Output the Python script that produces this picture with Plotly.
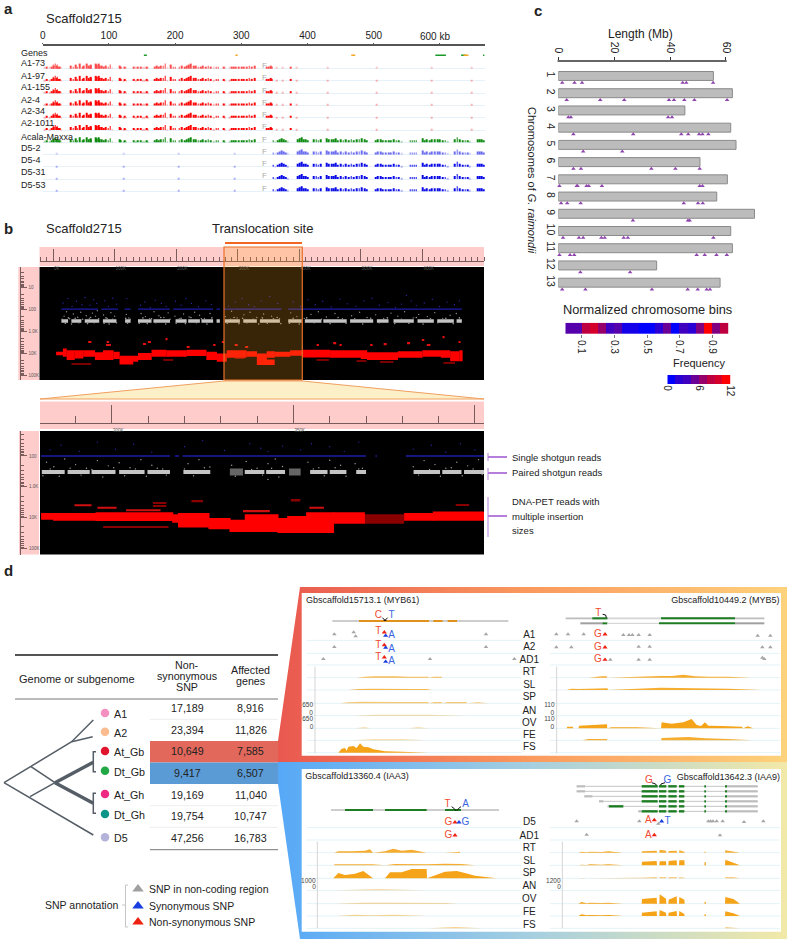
import numpy as np
import plotly.graph_objects as go

W, H = 787, 941
FONT = "Liberation Sans"

# ---- panel a: coverage tracks (kb, relative height)
track_names = ["A1-73", "A1-97", "A1-155", "A2-4", "A2-34", "A2-1011", "Acala-Maxxa", "D5-2", "D5-4", "D5-31", "D5-53"]
track_alpha = [0.7, 0.95, 0.95, 1, 1, 1, 1, 0.6, 1, 1, 1]
label_y = [63.5, 75.5, 87, 99.5, 111.5, 123.5, 137, 148.5, 159.5, 172, 185]
red_kb = [3, 6, 10, 14, 16, 17, 19, 21, 22, 24, 26, 28, 42, 46, 50, 52, 56, 60, 62, 66, 69, 72, 73, 80, 82, 84, 86, 89, 92, 95, 99, 102, 105,
          116, 118, 122, 124, 126, 138, 141, 144, 148, 151, 154, 157, 159, 169, 172, 175, 178, 182, 185, 188, 193, 197, 200, 206, 210, 214, 217,
          220, 224, 228, 231, 235, 239, 242, 246, 250, 254, 258, 262, 265, 273, 275, 282, 285, 288, 292, 296, 300, 304, 308, 312, 316, 320,
          338, 341, 344, 346, 353, 362, 374, 384, 430, 504, 588, 648]
red_h = [1, 2, 1, 2, 4, 3, 5, 3, 4, 2, 2, 1, 3, 2, 4, 2, 5, 2, 3, 5, 3, 4, 3, 5, 4, 5, 3, 3, 2, 3, 2, 4, 1,
         3, 2, 1, 2, 1, 2, 1, 2, 2, 1, 1, 2, 1, 2, 3, 2, 3, 3, 5, 1, 4, 2, 2, 2, 3, 2, 3,
         4, 5, 3, 3, 2, 2, 3, 2, 3, 2, 1, 2, 2, 2, 1, 1, 2, 2, 2, 2, 2, 2, 2, 3, 2, 3,
         2, 2, 3, 2, 1, 1, 2, 1, 1, 1, 1, 1]
blue_kb = [21, 122, 205, 290, 348, 351, 355, 358, 361, 364, 367, 370, 385, 388, 391, 394, 397, 400, 409, 413, 416, 420,
           429, 432, 436, 439, 443, 446, 450, 454, 458, 462, 466, 470, 474, 478, 482, 486, 489, 503, 506, 510, 514, 518, 522, 526, 530, 534, 538, 542,
           555, 558, 561, 564, 574, 577, 580, 584, 588, 592, 596, 600, 604, 608, 612, 622, 626, 630, 634, 638, 642, 645, 657, 660, 663, 666]
blue_h = [1, 1, 1, 1, 2, 1, 2, 3, 4, 3, 2, 1, 3, 4, 5, 3, 3, 2, 3, 3, 2, 3,
          4, 3, 3, 3, 4, 2, 3, 2, 3, 2, 3, 2, 3, 3, 4, 3, 2, 2, 3, 3, 2, 2, 2, 2, 3, 2, 2, 1,
          2, 2, 2, 2, 4, 2, 3, 2, 3, 3, 3, 3, 2, 2, 1, 3, 5, 3, 2, 2, 2, 1, 3, 3, 3, 2]
gene_start = [152.8, 291, 466, 593, 632, 635.5, 665]
gene_end = [157.3, 294.5, 472, 609, 639, 643, 667]
gene_color = ["#1a9a2a", "#f5a623", "#f5a623", "#1a9a2a", "#1a9a2a", "#f5a623", "#1a9a2a"]
a_ticks = [0, 100, 200, 300, 400, 500, 600]
a_tick_text = ["0", "100", "200", "300", "400", "500", ""]

# ---- panel b: read maps (kb, log10 insert size)
up_seg_start = [13.6, 78.6, 116.5, 138, 195, 265.6, 277.5, 382]
up_seg_end = [73, 105.7, 125.7, 189.7, 260, 271, 371, 664]
up_white_start = [13.6, 29.8, 51.5, 81, 117, 138, 163, 199, 219.5, 241, 265.6, 279, 309, 336, 382, 409, 439, 482.5, 526, 553, 592, 624, 655.5]
up_white_end = [24.4, 46, 75, 103, 126, 160, 190, 217, 238.5, 260, 271, 303.5, 331, 368.5, 404, 436, 477, 520, 545, 586, 618.5, 651, 664]
up_band_x = [5, 16, 22, 35, 49, 68, 81, 98, 108, 130, 138, 160, 184, 217, 249, 266, 282, 314, 331, 347, 360, 385, 406, 450, 500, 510, 560, 600, 630, 645, 660, 665]
up_band_top = [3.92, 3.77, 3.85, 3.85, 3.85, 3.95, 3.85, 3.92, 4.1, 4.1, 3.98, 3.83, 3.85, 3.83, 3.92, 4.0, 3.85, 3.9, 4.0, 3.9, 3.92, 3.85, 3.83, 3.85, 3.85, 3.95, 3.9, 3.85, 3.85, 3.9, 3.85]
up_band_bot = [4.08, 4.15, 4.30, 4.23, 4.15, 4.30, 4.30, 4.25, 4.5, 4.38, 4.3, 4.15, 4.15, 4.12, 4.3, 4.38, 4.2, 4.15, 4.3, 4.2, 4.15, 4.1, 4.18, 4.2, 4.25, 4.3, 4.2, 4.15, 4.2, 4.35, 4.35]
up_low_x = [331]
up_low_w = [29]
up_low_top = [4.28]
up_low_bot = [4.53]
up_dash_x = [57, 86, 87, 146, 154, 184, 217, 260, 274, 295, 312, 428, 455, 466, 515, 537, 575, 599, 607, 634, 659]
up_dash_w = [5.4, 8, 4, 5, 5, 2, 5, 4, 4, 5, 5, 4, 5, 3, 4, 5, 5, 4, 6, 2, 3]
up_dash_y = [3.47, 3.62, 3.47, 3.58, 3.47, 3.36, 3.70, 3.62, 3.47, 3.62, 3.70, 3.62, 3.55, 3.62, 3.62, 3.59, 3.55, 3.39, 3.62, 3.27, 3.47]
up_dark_x = [30, 179, 295, 428, 493, 531, 634]
up_dark_w = [32, 16, 16, 20, 16, 22, 19]
up_dark_y = [4.48, 4.30, 4.23, 4.30, 4.33, 4.38, 4.45]
up_blue_x = [16, 24, 31, 38, 47, 52, 60, 66, 71, 84, 90, 97, 103, 120, 142, 149, 158, 166, 176, 184, 199, 208, 216, 225, 236, 248, 257, 285, 296, 307, 318, 327, 338, 352, 365,
             390, 402, 414, 426, 438, 452, 466, 478, 492, 505, 518, 530, 544, 556, 566, 574, 582, 590, 603, 616, 628, 640, 652, 660]
up_blue_y = [1.7, 1.5, 1.85, 1.62, 1.78, 1.45, 1.8, 1.55, 1.72, 1.6, 1.85, 1.48, 1.75, 1.5, 1.8, 1.65, 1.9, 1.58, 1.72, 1.85, 1.62, 1.8, 1.5, 1.72, 1.88, 1.6, 1.76, 1.84, 1.66, 1.5, 1.78, 1.87, 1.6, 1.4, 1.72,
             1.65, 1.85, 1.55, 1.78, 1.62, 1.88, 1.52, 1.74, 1.85, 1.6, 1.48, 1.8, 1.68, 1.9, 1.75, 1.35, 1.6, 1.82, 1.7, 1.54, 1.86, 1.66, 1.78, 1.6]
up_white_x = [18, 22, 27, 33, 40, 45, 54, 59, 64, 69, 72, 82, 88, 94, 100, 119, 123, 143, 150, 157, 164, 172, 180, 187, 198, 205, 212, 221, 230, 238, 246, 255, 280, 290, 299, 310, 320, 331, 342, 355, 368,
              386, 396, 408, 419, 431, 444, 458, 470, 485, 498, 510, 524, 537, 549, 560, 571, 585, 594, 608, 620, 633, 645, 655]
up_white_y = [2.3, 2.1, 2.42, 2.2, 2.35, 2.12, 2.28, 2.4, 2.16, 2.3, 2.05, 2.25, 2.4, 2.14, 2.3, 2.22, 2.38, 2.18, 2.32, 2.42, 2.1, 2.28, 2.36, 2.15, 2.3, 2.42, 2.2, 2.34, 2.12, 2.26, 2.4, 2.18, 2.32, 2.08, 2.38, 2.24, 2.12, 2.36, 2.2, 2.3, 2.42,
              2.15, 2.32, 2.4, 2.22, 2.1, 2.34, 2.18, 2.42, 2.28, 2.12, 2.36, 2.24, 2.4, 2.16, 2.3, 2.1, 2.38, 2.22, 2.32, 2.14, 2.4, 2.26, 2.18]
up_cloud_x = [15, 20, 25, 30, 36, 42, 48, 56, 61, 67, 74, 83, 86, 91, 97, 103, 118, 121, 125, 140, 146, 153, 160, 167, 175, 183, 190, 200, 208, 215, 224, 233, 241, 250, 258, 283, 288, 294, 302, 308, 315, 325, 334, 340, 348, 358, 364, 370,
              384, 390, 400, 412, 424, 436, 450, 463, 476, 490, 503, 516, 530, 543, 555, 566, 578, 590, 601, 613, 625, 638, 650, 660]
up_cloud_y = [2.44, 2.62, 2.38, 2.66, 2.4, 2.6, 2.44, 2.64, 2.36, 2.6, 2.42, 2.62, 2.38, 2.66, 2.44, 2.6, 2.4, 2.62, 2.44, 2.62, 2.38, 2.64, 2.42, 2.6, 2.36, 2.66, 2.44, 2.62, 2.4, 2.64, 2.36, 2.6, 2.42, 2.66, 2.38, 2.62, 2.44, 2.36, 2.64, 2.4, 2.6, 2.44, 2.66, 2.38, 2.62, 2.42, 2.36, 2.64,
              2.62, 2.4, 2.66, 2.38, 2.6, 2.44, 2.64, 2.36, 2.62, 2.42, 2.66, 2.4, 2.6, 2.38, 2.64, 2.44, 2.62, 2.36, 2.66, 2.42, 2.6, 2.4, 2.64, 2.38]
lo_blue_start = [280.5, 317.4, 319.5, 372.6, 381]
lo_blue_end = [316, 318.5, 370, 373, 402.6]
lo_white_start = [280.7, 287.8, 294.4, 302, 309.8, 319.7, 336.6, 342.5, 354.6, 360, 367.3, 383.1, 391, 397]
lo_white_end = [287, 293.9, 301, 309, 316, 327.1, 342, 347.7, 359.4, 364.6, 370, 390.4, 396.3, 402.6]
lo_gray_start = [332.5, 348.8]
lo_gray_end = [336.1, 352]
lo_band_x = [280.5, 283.8, 295.5, 316.6, 318.2, 326.6, 332.4, 336.6, 345.6, 348.3, 353.5, 360.9, 369.4]
lo_band_top = [3.85, 3.85, 3.83, 3.89, 3.85, 4.01, 4.07, 3.89, 4.01, 3.95, 3.83, 3.83]
lo_band_bot = [4.07, 4.10, 4.11, 4.17, 4.32, 4.38, 4.47, 4.47, 4.50, 4.50, 4.50, 4.20]
lo_band2_x = [380.5, 388.4, 402.6]
lo_band2_top = [3.85, 3.80]
lo_band2_bot = [4.10, 4.10]
lo_dash_x = [289.7, 296, 354.4, 336.1, 303.9]
lo_dash_w = [4.7, 5.3, 4, 7.4, 9.5]
lo_dash_y = [3.60, 3.68, 3.68, 3.79, 3.76]
lo_dark_x = [311.3, 311.3, 321.9, 297.6, 394.7, 349.3, 369.4]
lo_dark_w = [3.7, 3.7, 3.2, 18, 3.7, 2.6, 11.1]
lo_dark_y = [3.52, 3.62, 3.48, 4.30, 3.60, 3.45, 4.05]
lo_blue_dot_x = [283, 286, 291, 296, 301, 306, 311, 320, 325, 331, 338, 341, 343, 347, 352, 355, 360, 364, 368, 383, 388, 392, 396, 400]
lo_blue_dot_y = [1.8, 1.65, 1.85, 1.55, 1.78, 1.62, 1.88, 1.7, 1.5, 1.82, 1.6, 1.75, 1.85, 1.68, 1.8, 1.6, 1.7, 1.85, 1.55, 1.78, 1.65, 1.88, 1.6, 1.8]
lo_white_dot_x = [282, 284, 287, 290, 293, 296, 299, 302, 305, 308, 311, 314, 321, 324, 327, 333, 337, 340, 343, 345, 347, 354, 357, 360, 363, 367, 369, 383, 386, 389, 392, 395, 398, 401, 343,
                  281, 283, 285.5, 288.5, 291.5, 294.5, 297.5, 300.5, 303.5, 306.5, 309.5, 312.5, 315, 320, 322.5, 325.5, 334, 338.5, 341.5, 344, 346, 355.5, 358.5, 361.5, 364.5, 368, 384.5, 387.5, 390.5, 393.5, 396.5, 399.5, 402]
lo_white_dot_y = [2.2, 2.35, 2.1, 2.28, 2.4, 2.15, 2.32, 2.22, 2.38, 2.12, 2.3, 2.42, 2.25, 2.12, 2.36, 2.3, 2.18, 2.4, 2.25, 2.1, 2.34, 2.2, 2.38, 2.14, 2.3, 2.25, 2.4, 2.35, 2.15, 2.28, 2.4, 2.2, 2.32, 2.12, 2.76,
                  2.64, 2.42, 2.66, 2.4, 2.62, 2.44, 2.68, 2.38, 2.64, 2.42, 2.66, 2.4, 2.62, 2.42, 2.64, 2.38, 2.66, 2.44, 2.62, 2.4, 2.68, 2.42, 2.64, 2.38, 2.66, 2.42, 2.62, 2.44, 2.66, 2.38, 2.64, 2.42, 2.6]

# ---- panel c: chromosomes (Mb)
chrom_names = [str(i) for i in range(1, 14)]
chrom_len = [55.5, 62.3, 45.3, 61.7, 63.6, 50.7, 60.5, 56.7, 70.2, 61.7, 62.3, 35.2, 57.9]
chrom_sites = [
    [1.4, 5.8, 8.5, 44.5, 45.8, 55.4],
    [3, 15, 23.6, 39.6, 41.4, 45.1, 48.7, 60.4],
    [3.6, 4.5, 39.3, 40.7],
    [5.4, 26.8, 44, 46.5, 50.4, 51.6, 53.7],
    [8.9, 22.9],
    [5.4, 8.1, 33.3, 41.9, 50.6],
    [0.4, 6.6, 6.9, 10.1, 10.9, 15.6, 50.6, 51.6],
    [1, 3.2, 8, 44.9, 50, 51.7],
    [26.7, 46.4, 47],
    [1.7, 7.4, 8.9, 15.4, 16.6, 23.4, 24.9, 55.5],
    [0.4, 4.2, 5.7, 49.5, 52.4, 56.6, 60.3],
    [7.9, 25.7],
    [1.4, 9.7, 33.5, 46.3, 49.9, 53.1, 54.3],
]
bin_pos = [0.025, 0.075, 0.125, 0.175, 0.225, 0.275, 0.325, 0.375, 0.425, 0.475, 0.525, 0.575, 0.625, 0.675, 0.725, 0.775, 0.825, 0.875, 0.925, 0.975]
bin_freq = [4, 4, 9, 10, 7, 3, 4, 1, 1, 0, 0, 2, 5, 0, 3, 2, 6, 12, 6, 9]
scale_pos = [0.75, 2.25, 3.75, 5.25, 6.75, 8.25, 9.75, 11.25]
scale_freq = [0, 2, 3, 5, 7, 9, 10, 12]

# ---- panel d: table
genome_names = ["A1", "A2", "At_Gb", "Dt_Gb", "At_Gh", "Dt_Gh", "D5"]
genome_colors = ["#f48fc0", "#fbbc90", "#e0142c", "#22a844", "#ee2a85", "#0d9488", "#b3b3d9"]
nonsyn_snp = ["17,189", "23,394", "10,649", "9,417", "19,169", "19,754", "47,256"]
affected_genes = ["8,916", "11,826", "7,585", "6,507", "11,040", "10,747", "16,783"]
table_y = [708, 729.7, 751, 773, 794.5, 816, 838]
genome_y = [713, 731.7, 751, 770.7, 794, 814, 837.3]
tree_thin_x = [4, 71.7, 93.3, None, 71.7, 92.7, None, 4, 93.3, None, 31, 55, None, 30, 55, None, 96, 93.3, 93.3, 96, None, 96, 93.3, 93.3, 96]
tree_thin_y = [782.7, 741.7, 720, None, 741.7, 736.7, None, 782.7, 835, None, 766.7, 782.7, None, 796.7, 782.7, None, 751.7, 751.7, 771.7, 771.7, None, 793.3, 793.3, 813.3, 813.3]
tree_thick_x = [55, 93.3, None, 55, 93.3]
tree_thick_y = [782.7, 803.3, None, 782.7, 762.3]
annot_text = ["SNP in non-coding region", "Synonymous SNP", "Non-synonymous SNP"]
annot_colors = ["#a0a0a0", "#1a3fe0", "#ee2211"]
annot_y = [889, 906, 922]

# ---- panel d: gene browser frames, positions in frame units
top_tracks = ["A1", "A2", "AD1", "RT", "SL", "SP", "AN", "OV", "FE", "FS"]
top_label_y = [152, 188, 226, 263, 300, 338, 378, 414, 452, 488]
top_base = [166, 205, 240, 278, 315, 355, 392, 430, 466, 503]
bot_tracks = ["D5", "AD1", "RT", "SL", "SP", "AN", "OV", "FE", "FS"]
bot_label_y = [188, 228, 266, 303, 340, 379, 418, 456, 495]
bot_base = [203, 240, 278, 316, 355, 391, 431, 468, 505]

gray_top_x = [118, 176, 182, 573, 118, 573, 85, 405, 658, 784, 819, 866, 985, 1002, 1012, 1031, 1064, 1388, 1426, 784, 829, 1031, 1064, 1402, 1426, 946, 1031, 1064, 1402, 1408]
gray_top_y = [148, 142, 154, 148, 186, 186, 222, 222, 222, 148, 148, 148, 150, 150, 150, 150, 150, 152, 152, 187, 187, 185, 185, 187, 187, 224, 224, 224, 218, 222]
red_top_x = [268, 268, 268, 930, 930, 930]
red_top_y = [142, 180, 217, 148, 187, 224]
blue_top_x = [272, 272, 272]
blue_top_y = [152, 188, 230]
gray_bot_x = [845, 1033, 1090, 1240, 1247, 1254, 1265, 1283, 1347, 1405, 875, 1275]
gray_bot_y = [184, 184, 191, 184, 184, 184, 184, 184, 186, 184, 224, 226]
red_bot_x = [480, 1078, 480, 1078]
red_bot_y = [187, 180, 226, 225]
blue_bot_x = [492, 1100]
blue_bot_y = [187, 184]

myb61_rt_x = [185, 210, 240, 270, 300, 340, 380, 400, 402, 415, 440, 441]
myb61_rt_h = [0, 3, 4, 3, 4, 3, 4, 3, 0, 3, 3, 0]
myb61_sl_x = [160, 190, 230, 270, 310, 350, 395, 410]
myb61_sl_h = [0, 3, 4, 3, 4, 3, 3, 0]
myb61_sp_x = [135, 160, 200, 240, 300, 350, 400, 402, 418, 440, 442, 458, 486, 515, 516, 550, 580]
myb61_sp_h = [0, 3, 5, 4, 4, 4, 4, 0, 4, 4, 0, 4, 4, 4, 0, 3, 0]
myb61_an_x = [175, 240, 300, 400, 515]
myb61_an_h = [0, 3, 3, 3, 0]
myb61_ov_x = [180, 210, 225, 340, 370, 400]
myb61_ov_h = [0, 3, 0, 0, 3, 0]
myb61_fe_x = [165, 240, 320, 395]
myb61_fe_h = [0, 3, 3, 0]
myb61_fs_x = [130, 140, 150, 155, 160, 175, 185, 195, 205, 220, 235, 245, 270, 320, 400]
myb61_fs_h = [0, 12, 14, 6, 18, 20, 14, 28, 18, 16, 10, 8, 4, 3, 0]
myb5_rt_x = [880, 900, 920, 935, 937, 1098, 1130, 1165, 1200, 1240, 1300, 1370]
myb5_rt_h = [0, 3, 4, 4, 0, 5, 5, 9, 4, 3, 3, 0]
myb5_sl_x = [815, 830, 850, 900, 937, 940, 1098, 1150, 1220, 1300, 1400]
myb5_sl_h = [0, 4, 3, 5, 5, 0, 7, 6, 6, 4, 0]
myb5_ov_x = [815, 817, 833, 835, 850, 853, 880, 910, 936, 937, 950, 1025, 1098, 1100, 1130, 1165, 1190, 1205, 1218, 1230, 1240, 1280, 1340, 1345, 1358, 1375]
myb5_ov_h = [0, 5, 5, 0, 0, 8, 9, 11, 12, 0, 3, 3, 0, 18, 14, 18, 28, 10, 7, 18, 8, 7, 5, 0, 6, 0]
myb5_fe_x = [862, 880, 936, 937, 1098, 1100, 1180, 1230, 1300, 1370]
myb5_fe_h = [0, 4, 4, 0, 0, 7, 10, 6, 4, 0]
iaa3_rt_x = [118, 130, 170, 210, 225, 234, 270, 295, 320, 350, 395, 450, 495]
iaa3_rt_h = [0, 4, 4, 6, 10, 0, 4, 12, 6, 9, 0, 0, 3]
iaa3_sl_x = [118, 232, 270, 300, 395, 450, 500, 540]
iaa3_sl_h = [3, 3, 0, 4, 3, 5, 4, 0]
iaa3_sp_x = [115, 130, 150, 180, 205, 234, 270, 285, 320, 350, 395, 396, 450, 485, 510, 540, 605]
iaa3_sp_h = [0, 16, 10, 14, 22, 0, 0, 18, 18, 28, 28, 0, 20, 22, 16, 8, 0]
iaa3_an_x = [118, 250, 395]
iaa3_an_h = [0, 3, 0]
iaa3_ov_x = [118, 200, 300, 395, 450, 490]
iaa3_ov_h = [0, 3, 3, 3, 2, 0]
iaa3_fe_x = [125, 180, 230, 280, 300, 395]
iaa3_fe_h = [0, 4, 2, 3, 4, 0]
iaa3_fs_x = [400, 480, 560]
iaa3_fs_h = [0, 4, 0]
iaa9_x = [850, 860, 875, 885, 920, 940, 985, 1040, 1041, 1085, 1086, 1093, 1094, 1113, 1114, 1120, 1121, 1145, 1146, 1152, 1153, 1168, 1169, 1228, 1229, 1232, 1233, 1290, 1291, 1315, 1335]
iaa9_rt_h = [0, 3, 1, 3, 2, 4, 0, 0, 4, 6, 0, 0, 9, 6, 0, 0, 5, 6, 0, 0, 7, 3, 0, 0, 3, 3, 0, 0, 7, 4, 0]
iaa9_sl_h = [0, 2, 1, 3, 2, 3, 0, 0, 11, 13, 0, 0, 12, 12, 0, 0, 13, 15, 0, 0, 15, 15, 0, 0, 10, 10, 0, 0, 17, 8, 0]
iaa9_sp_h = [0, 1, 0, 0, 1, 2, 0, 0, 2, 3, 0, 0, 3, 3, 0, 0, 3, 3, 0, 0, 3, 2, 0, 0, 0, 0, 0, 0, 3, 3, 0]
iaa9_ov_h = [0, 5, 1, 3, 2, 3, 0, 0, 14, 18, 0, 0, 28, 15, 0, 0, 12, 22, 0, 0, 20, 12, 0, 0, 6, 6, 0, 0, 20, 14, 0]
iaa9_fe_h = [0, 5, 2, 3, 2, 3, 0, 0, 10, 14, 0, 0, 18, 10, 0, 0, 10, 15, 0, 0, 15, 6, 0, 0, 5, 5, 0, 0, 14, 8, 0]
iaa9_fs_h = [0, 0, 0, 0, 0, 0, 0, 0, 0, 0, 0, 0, 1, 1, 0, 0, 0, 1, 0, 0, 1, 1, 0, 0, 0, 0, 0, 0, 3, 2, 0]
iso_y = [79, 94, 109, 124, 139, 154]
iso_start = [845, 845, 868, 912, 938, 1030]
iso_utr_end = [870, 870, 892, 925, 942, 1040]
iso_first_exon = [1040, 1040, 1040, 1040, 942, 1040]
iso_first_end = [1088, 1088, 1088, 1088, 985, 1088]
exon_start = [1092, 1120, 1152, 1228, 1290]
exon_end = [1114, 1145, 1168, 1233, 1296]


def px(x):
    return x / W


def py(y):
    return 1 - y / H


def xd(a, b):
    return [a / W, b / W]


def yd(a, b):
    return [1 - b / H, 1 - a / H]


def segs(starts, ends, y=None):
    xs, ys = [], []
    for a, b in zip(starts, ends):
        xs += [a, b, None]
        if y is not None:
            ys += [y, y, None]
    return xs, ys


fig = go.Figure()
anns = []
shapes = []


def text(x, y, s, size=10, color="#222", anchor="left", angle=0, **kw):
    anns.append(dict(x=px(x), y=py(y), xref="paper", yref="paper", text=s, showarrow=False, xanchor=anchor, yanchor="middle",
                     textangle=angle, font=dict(family=FONT, size=size, color=color), borderpad=0, **kw))


def rect(x0, y0, x1, y1, fill, layer="below", line=None, lw=0):
    shapes.append(dict(type="rect", xref="paper", yref="paper", x0=px(x0), x1=px(x1), y0=py(y0), y1=py(y1), fillcolor=fill,
                       line=dict(color=line or fill, width=lw), layer=layer))


def line(xs, ys, color, width, ax="", **kw):
    fig.add_trace(go.Scatter(x=xs, y=ys, mode="lines", line=dict(color=color, width=width), xaxis="x" + ax, yaxis="y" + ax, **kw))


def pts(xs, ys, color, size, ax="", symbol="circle"):
    fig.add_trace(go.Scatter(x=xs, y=ys, mode="markers", xaxis="x" + ax, yaxis="y" + ax,
                             marker=dict(color=color, size=size, symbol=symbol, line=dict(width=0))))


def letters(xs, ys, s, color, ax, size=10):
    fig.add_trace(go.Scatter(x=xs, y=ys, mode="text", text=[s] * len(xs), textposition="middle center", xaxis="x" + ax, yaxis="y" + ax,
                             textfont=dict(family=FONT, size=size, color=color)))


def cover(xs, hs, base, ax, alpha=1.0):
    ys = [base - h for h in hs]
    fig.add_trace(go.Scatter(x=[xs[0]] + xs + [xs[-1]], y=[base] + ys + [base], mode="lines", fill="toself", line=dict(width=0),
                             fillcolor="#f5a318", opacity=alpha, xaxis="x" + ax, yaxis="y" + ax))


def blocks(xs, tops, bots, color, ax):
    fig.add_trace(go.Bar(x=xs[:-1], base=tops, y=list(np.array(bots) - np.array(tops)), width=list(np.diff(xs) + 0.3), offset=0,
                         marker=dict(color=color, line=dict(width=0)), xaxis="x" + ax, yaxis="y" + ax))


def dashes(xs, ws, ys, color, ax, thick=0.07):
    fig.add_trace(go.Bar(x=xs, base=[y - thick / 2 for y in ys], y=[thick] * len(ys), width=ws, offset=0,
                         marker=dict(color=color, line=dict(width=0)), xaxis="x" + ax, yaxis="y" + ax))


# page background pieces: gradient frames and diagram
fig.add_trace(go.Scatter(x=[278, 300, 787, 787, 278, 278], y=[741, 587, 587, 762, 762, 741], mode="lines", fill="toself", line=dict(width=0),
                         fillgradient=dict(type="horizontal", colorscale=[[0, "#e9584f"], [0.5, "#fa9a5e"], [1, "#fed27c"]])))
fig.add_trace(go.Scatter(x=[278, 787, 787, 300, 278, 278], y=[762, 762, 939, 939, 784, 762], mode="lines", fill="toself", line=dict(width=0),
                         fillgradient=dict(type="horizontal", colorscale=[[0, "#56a8f7"], [0.5, "#a6cfe0"], [1, "#f2e9a8"]])))
for x0, y0, x1, y1 in [(301.7, 593, 781, 755.7), (301.7, 769, 781, 931.7)]:
    fig.add_trace(go.Scatter(x=[x0, x1, x1, x0, x0], y=[y0, y0, y1, y1, y0], mode="lines", fill="toself", line=dict(width=0), fillcolor="white"))

line(tree_thin_x, tree_thin_y, "#555d66", 1.5)
line(tree_thick_x, tree_thick_y, "#555d66", 3.5)
pts([105] * 7, genome_y, genome_colors, 8.5)
pts([138] * 3, annot_y, annot_colors, 10, symbol="triangle-up")
line([128, 125.5, 125.5, 128, None, 125.5, 122], [885, 885, 927, 927, None, 905, 905], "#c4c4c4", 1)
line([488, 507, None, 488, 507, None, 488, 507], [457, 457, None, 473, 473, None, 516, 516], "#b57edc", 2)
line([488, 488, None, 488, 488, None, 488, 488], [453, 461, None, 468, 480, None, 497, 537], "#b57edc", 1)

# panel a
for i, name in enumerate(track_names):
    base = 10 - i
    text(20, label_y[i], name, 9)
    if i < 6:
        xs, hs, col = red_kb, red_h, "#ff0000"
    elif i == 6:
        xs, hs, col = red_kb[:86] + [k for k in blue_kb[4:]], red_h[:86] + blue_h[4:], "#0e8a0e"
    else:
        xs, hs, col = blue_kb, blue_h, "#0a0ae6"
    # lone low spikes look pale in the blurred reference
    fade = [0.3 if h == 1 else 1 for h in hs]
    fig.add_trace(go.Bar(x=xs, y=[h / 12 for h in hs], base=base, width=1.2, marker=dict(color=col, opacity=fade, line=dict(width=0)),
                         opacity=track_alpha[i], xaxis="x2", yaxis="y2"))
    letters([335], [base + 0.22], "F", "#aaaaaa", "2", 8)
for s, e, c in zip(gene_start, gene_end, gene_color):
    line([s, e], [11.1, 11.1], c, 1.6, "2")
text(20, 52.5, "Genes", 9)
text(434.5, 36, "600 kb", 10, anchor="center")
text(45, 18, "Scaffold2715", 13)
text(45, 228, "Scaffold2715", 13)
text(262, 228, "Translocation site", 13, anchor="center")

# panel b upper
rect(39.5, 247, 484, 266, "#ffcccc")
rect(18.3, 267, 39.3, 380, "#ffcccc")
rect(39.5, 267, 484, 380, "#000000")
rect(40, 401.5, 484, 429, "#ffcccc")
rect(19, 431, 39, 554.6, "#ffcccc")
rect(40, 431, 484, 554.6, "#000000")
line(*segs(up_white_start, up_white_end, 2.52), "#c4c4c4", 3.5, "3")
pts(up_white_x, up_white_y, "#909090", 1.4, "3")
pts(up_cloud_x, up_cloud_y, "#9a9a9a", 1.6, "3")
line(*segs(up_seg_start, up_seg_end, 1.98), "#1c1ca8", 1.4, "3")
pts(up_blue_x, up_blue_y, "#2a2ab8", 1.3, "3")
dashes(up_dark_x, up_dark_w, up_dark_y, "#7a0000", "3", 0.05)
blocks(up_band_x, up_band_top, up_band_bot, "#ff0000", "3")
fig.add_trace(go.Bar(x=up_low_x, base=up_low_top, y=[up_low_bot[0] - up_low_top[0]], width=up_low_w, offset=0,
                     marker=dict(color="#ff0000", line=dict(width=0)), xaxis="x3", yaxis="y3"))
dashes(up_dash_x, up_dash_w, up_dash_y, "#e01010", "3")

# panel b lower
line(*segs(lo_white_start, lo_white_end, 2.52), "#c4c4c4", 4, "4")
line(*segs(lo_gray_start, lo_gray_end, 2.52), "#666666", 7, "4")
pts(lo_white_dot_x, lo_white_dot_y, "#a0a0a0", 1.4, "4")
line(*segs(lo_blue_start, lo_blue_end, 2.0), "#1c1ca8", 1.5, "4")
pts(lo_blue_dot_x, lo_blue_dot_y, "#2a2ab8", 1.3, "4")
dashes(lo_dark_x, lo_dark_w, lo_dark_y, "#8a0000", "4", 0.05)
fig.add_trace(go.Bar(x=[369.4], base=[3.89], y=[0.31], width=[11.1], offset=0, marker=dict(color="#8a0000", line=dict(width=0)), xaxis="x4", yaxis="y4"))
blocks(lo_band_x, lo_band_top, lo_band_bot, "#ff0000", "4")
blocks(lo_band2_x, lo_band2_top, lo_band2_bot, "#ff0000", "4")
dashes(lo_dash_x, lo_dash_w, lo_dash_y, "#d01010", "4")

# trapezoid and highlight box
shapes.append(dict(type="path", xref="paper", yref="paper", layer="below", fillcolor="#fdf0c8", line=dict(color="#f0a060", width=1),
                   path=f"M {px(224)} {py(381)} L {px(302.3)} {py(381)} L {px(484)} {py(399)} L {px(40)} {py(399)} Z"))
rect(224, 247, 302.3, 380, "rgba(255,165,30,0.22)", layer="above", line="#e8702a", lw=1.2)
rect(225, 242, 302, 244, "#f26522", layer="above")

text(511, 457, "Single shotgun reads", 9.5)
text(511, 472, "Paired shotgun reads", 9.5)
text(511, 502, "DNA-PET reads with", 9.5)
text(511, 516, "multiple insertion", 9.5)
text(511, 530, "sizes", 9.5)

# panel c
fig.add_trace(go.Bar(x=chrom_len, y=list(range(1, 14)), orientation="h", width=0.52,
                     marker=dict(color="#bcbcbc", line=dict(color="#8a8a8a", width=1)), xaxis="x5", yaxis="y5"))
site_x, site_y = [], []
for r, sites in enumerate(chrom_sites):
    site_x += sites
    site_y += [r + 1.39] * len(sites)
fig.add_trace(go.Scatter(x=site_x, y=site_y, mode="markers", cliponaxis=False, marker=dict(color="#8e44ad", size=4, symbol="triangle-up", line=dict(width=0)),
                         xaxis="x5", yaxis="y5"))
shapes.append(dict(type="line", xref="paper", yref="paper", x0=px(557.6), x1=px(726.7), y0=py(61), y1=py(61), line=dict(color="#333333", width=1.5), layer="above"))
text(640, 34, "Length (Mb)", 12, anchor="center")
text(532, 180, "Chromosomes of <i>G. raimondii</i>", 11, anchor="center", angle=90)
text(647, 309.5, "Normalized chromosome bins", 12.8, anchor="center")
text(699, 363, "Frequency", 11, anchor="center")
scale = [[0, "#0000ff"], [1, "#ff0000"]]
fig.add_trace(go.Heatmap(x=bin_pos, y=[0], z=[bin_freq], zmin=0, zmax=12, colorscale=scale, showscale=False, xaxis="x6", yaxis="y6"))
fig.add_trace(go.Heatmap(x=scale_pos, y=[0], z=[scale_freq], zmin=0, zmax=12, colorscale=scale, showscale=False, xaxis="x7", yaxis="y7"))

# panel d table
rect(150, 741, 278, 762.5, "#e2685c")
rect(150, 762.5, 278, 784, "#5b9bd5")
for y0, c, w in [(655, "#555555", 2), (699, "#777777", 1)]:
    shapes.append(dict(type="line", xref="paper", yref="paper", x0=px(15), x1=px(278), y0=py(y0), y1=py(y0), line=dict(color=c, width=w), layer="below"))
for y0, c in [(719.3, "#eeeeee"), (805.7, "#eeeeee"), (827.3, "#eeeeee"), (849.7, "#777777")]:
    shapes.append(dict(type="line", xref="paper", yref="paper", x0=px(150), x1=px(278), y0=py(y0), y1=py(y0), line=dict(color=c, width=1), layer="below"))
text(18, 679, "Genome or subgenome", 11)
for s, y in zip(["Non-", "synonymous", "SNP"], [665, 676, 687]):
    text(187, y, s, 10.7, anchor="center")
for s, y in zip(["Affected", "genes"], [670, 681]):
    text(250.7, y, s, 10.7, anchor="center")
for i in range(7):
    text(113, genome_y[i] + 1, genome_names[i], 10.7)
    text(187, table_y[i], nonsyn_snp[i], 10.7, anchor="center")
    text(250.7, table_y[i], affected_genes[i], 10.7, anchor="center")
text(120, 905, "SNP annotation", 10.5, anchor="right")
for s, y in zip(annot_text, annot_y):
    text(148, y, s, 10.5)

# panel labels
text(3, 9, "<b>a</b>", 15)
text(3, 228, "<b>b</b>", 15)
text(533, 10, "<b>c</b>", 15)
text(3, 570, "<b>d</b>", 15)

# frame: MYB61 and MYB5
for b in top_base:
    line([35, 680, None, 765, 1455], [b, b, None, b, b], "#e3f3f8", 1, "8")
for x in [60, 785]:
    line([x, x], [245, 505], "#d5d5d5", 1, "8")
line([112, 640], [108, 108], "#bdbdbd", 1.6, "8")
line(*segs([192, 415, 458], [402, 443, 486], 108), "#e0921c", 2, "8")
line([812, 1408], [100, 100], "#bdbdbd", 1.6, "8")
line([940, 1098], [100, 100], "#ffffff", 1.6, "8")
line(*segs([892, 1098], [937, 1320], 100), "#1e7d22", 2, "8")
line([856, 925, None, 1320, 1408], [115, 115, None, 115, 115], "#a0a0a0", 2, "8")
line(*segs([923, 1092], [937, 1320], 115), "#1e7d22", 2, "8")
line([937, 1092], [115, 115], "#bbbbbb", 0.7, "8", )
line([940, 1098], [100, 100], "#bbbbbb", 0.7, "8")
line([262, 270, 266, None, 278, 270, 274], [98, 106, 106, None, 98, 106, 106], "#111111", 1, "8")
line([923, 932, 934], [88, 90, 98], "#111111", 1, "8")
pts(gray_top_x, gray_top_y, "#a5a5a5", 4, "8", "triangle-up")
pts(red_top_x, red_top_y, "#ee2211", 4.5, "8", "triangle-up")
pts(blue_top_x, blue_top_y, "#1a3fe0", 4.5, "8", "triangle-up")
letters([250, 910], [90, 85], "C", "#f04a30", "8")
fig.data[-1].text = ["C", "T"]
letters([290], [90], "T", "#3a66e0", "8")
letters([250, 250, 250], [140, 180, 217], "T", "#f04a30", "8")
letters([290, 290, 290], [152, 193, 230], "A", "#3a66e0", "8")
letters([909, 909, 909], [148, 187, 224], "G", "#f04a30", "8")
cover(myb61_rt_x, myb61_rt_h, 278, "8", 0.75)
cover(myb61_sl_x, myb61_sl_h, 315, "8", 0.75)
cover(myb61_sp_x, myb61_sp_h, 355, "8", 0.6)
cover(myb61_an_x, myb61_an_h, 392, "8", 0.4)
cover(myb61_ov_x, myb61_ov_h, 430, "8", 0.45)
cover(myb61_fe_x, myb61_fe_h, 466, "8", 0.45)
cover(myb61_fs_x, myb61_fs_h, 503, "8", 1)
cover(myb5_rt_x, myb5_rt_h, 278, "8", 0.9)
cover(myb5_sl_x, myb5_sl_h, 315, "8", 0.9)
cover(myb5_ov_x, myb5_ov_h, 430, "8", 1)
cover(myb5_fe_x, myb5_fe_h, 466, "8", 0.9)
for s, y in zip(top_tracks, top_label_y):
    letters([703], [y], s, "#222222", "8", 10)
for s, x, y in [("650", 38, 362), ("0", 48, 385), ("650", 38, 403), ("0", 50, 428), ("110", 763, 362), ("0", 772, 385), ("110", 763, 404), ("0", 772, 427)]:
    letters([x], [y], s, "#444444", "8", 6.5)
letters([203], [47], "Gbscaffold15713.1 (MYB61)", "#222222", "8", 9)
letters([1291], [47], "Gbscaffold10449.2 (MYB5)", "#222222", "8", 9)

# frame: IAA3 and IAA9
for b in bot_base:
    line([35, 680, None, 765, 1455], [b, b, None, b, b], "#e3f3f8", 1, "9")
for x in [67, 802]:
    line([x, x], [245, 505], "#d5d5d5", 1, "9")
line([108, 612], [150, 150], "#bdbdbd", 1.6, "9")
line(*segs([150, 270, 450], [234, 395, 498], 150), "#1e7d22", 2, "9")
line([470, 478, 482, None, 498, 490, 486], [140, 146, 152, None, 140, 146, 152], "#111111", 1, "9")
line([1070, 1082, 1086, None, 1110, 1098, 1096], [68, 72, 80, None, 68, 72, 80], "#111111", 1, "9")
for i, y in enumerate(iso_y):
    line([iso_start[i], 1388], [y, y], "#b5b5b5", 0.8, "9")
    line([iso_start[i], iso_utr_end[i], None, 1296, 1388], [y, y, None, y, y], "#bdbdbd", 2.2, "9")
    line(*segs([iso_first_exon[i]] + exon_start, [iso_first_end[i]] + exon_end, y), "#1e7d22", 2.4, "9")
pts(gray_bot_x, gray_bot_y, "#a5a5a5", 4, "9", "triangle-up")
pts(red_bot_x, red_bot_y, "#ee2211", 4.5, "9", "triangle-up")
pts(blue_bot_x, blue_bot_y, "#1a3fe0", 4.5, "9", "triangle-up")
letters([458, 460, 460, 1062], [133, 187, 226, 62], "T", "#f04a30", "9")
fig.data[-1].text = ["T", "G", "G", "G"]
letters([512, 511, 1117, 1118], [133, 187, 62, 185], "A", "#3a66e0", "9")
fig.data[-1].text = ["A", "G", "G", "T"]
letters([1060, 1060], [180, 226], "A", "#f04a30", "9")
cover(iaa3_rt_x, iaa3_rt_h, 278, "9", 0.9)
cover(iaa3_sl_x, iaa3_sl_h, 316, "9", 0.9)
cover(iaa3_sp_x, iaa3_sp_h, 355, "9", 1)
cover(iaa3_an_x, iaa3_an_h, 391, "9", 0.5)
cover(iaa3_ov_x, iaa3_ov_h, 431, "9", 0.5)
cover(iaa3_fe_x, iaa3_fe_h, 468, "9", 0.45)
cover(iaa3_fs_x, iaa3_fs_h, 505, "9", 0.5)
cover(iaa9_x, iaa9_rt_h, 278, "9", 0.9)
cover(iaa9_x, iaa9_sl_h, 316, "9", 1)
cover(iaa9_x, iaa9_sp_h, 355, "9", 0.7)
cover(iaa9_x, iaa9_ov_h, 431, "9", 1)
cover(iaa9_x, iaa9_fe_h, 468, "9", 1)
cover(iaa9_x, iaa9_fs_h, 505, "9", 0.7)
for s, y in zip(bot_tracks, bot_label_y):
    letters([703], [y], s, "#222222", "9", 10)
for s, x, y in [("1000", 40, 365), ("0", 57, 383), ("1200", 775, 365), ("0", 792, 383)]:
    letters([x], [y], s, "#444444", "9", 6.5)
letters([186], [49], "Gbscaffold13360.4 (IAA3)", "#222222", "9", 9)
letters([1300], [52], "Gbscaffold13642.3 (IAA9)", "#222222", "9", 9)

hidden = dict(visible=False)
log_minor = [float(d + np.log10(k)) for d in range(0, 6) for k in range(2, 10)]
rule = "#7a5c5c"
fig.update_layout(
    template="none",
    width=W, height=H, margin=dict(l=0, r=0, t=0, b=0, pad=0), autosize=False, showlegend=False, hovermode=False, barmode="overlay",
    paper_bgcolor="white", plot_bgcolor="rgba(0,0,0,0)", font=dict(family=FONT, color="#222"),
    annotations=anns, shapes=shapes,
    xaxis=dict(hidden, domain=[0, 1], range=[0, W]),
    yaxis=dict(hidden, domain=[0, 1], range=[H, 0], anchor="x"),
    xaxis2=dict(domain=xd(42.7, 485), range=[0, 668], side="top", anchor="y2", showline=True, linecolor="#555555", linewidth=2, showgrid=False, zeroline=False,
                tickvals=a_ticks, ticktext=a_tick_text, ticks="outside", ticklen=1, tickcolor="#555555", tickfont=dict(size=10, color="#222")),
    yaxis2=dict(domain=yd(45.7, 195), range=[-0.3, 11.875], anchor="x2", showticklabels=False, showline=False, zeroline=False, ticks="",
                tickvals=list(range(11)), showgrid=True, gridcolor="#e6f1f9", gridwidth=1),
    xaxis3=dict(domain=xd(39.5, 484), range=[-22, 700], anchor="free", position=py(261), side="top", showgrid=False, zeroline=False,
                showline=True, linecolor=rule, linewidth=1, tickvals=[0, 100, 200, 300, 400, 500, 600],
                ticktext=["0K", "100K", "200K", "300K", "400K", "500K", "600K"], ticks="outside", ticklen=12, tickcolor=rule, tickwidth=1,
                ticklabelposition="inside right", tickfont=dict(size=4.5, color="#555"),
                minor=dict(ticks="outside", ticklen=4, dtick=10, tick0=0, tickcolor=rule, showgrid=False)),
    yaxis3=dict(domain=yd(267, 380), range=[5.21, 0.06], anchor="free", position=px(19.5), side="left", showgrid=False, zeroline=False,
                showline=True, linecolor=rule, linewidth=1, tickvals=[1, 2, 3, 4, 5], ticktext=["10", "100", "1.0K", "10K", "100K"],
                ticks="inside", ticklen=6, tickcolor=rule, ticklabelposition="inside", tickfont=dict(size=4.5, color="#555"),
                minor=dict(ticks="inside", ticklen=3, tickmode="array", tickvals=log_minor, tickcolor=rule, showgrid=False)),
    xaxis4=dict(domain=xd(40, 484), range=[280.2, 402.5], anchor="free", position=py(422.5), side="top", showgrid=False, zeroline=False,
                showline=True, linecolor=rule, linewidth=1, tickvals=[300, 350, 400], ticktext=["300K", "350K", "400K"],
                ticks="outside", ticklen=18, tickcolor=rule, ticklabelposition="inside right", tickfont=dict(size=4.5, color="#555"),
                minor=dict(ticks="outside", ticklen=6.5, dtick=10, tick0=0, tickcolor=rule, showgrid=False)),
    yaxis4=dict(domain=yd(431, 554.6), range=[5.2, 1.19], anchor="free", position=px(20), side="left", showgrid=False, zeroline=False,
                showline=True, linecolor=rule, linewidth=1, tickvals=[2, 3, 4, 5], ticktext=["100", "1.0K", "10K", "100K"],
                ticks="inside", ticklen=6, tickcolor=rule, ticklabelposition="inside", tickfont=dict(size=4.5, color="#555"),
                minor=dict(ticks="inside", ticklen=3, tickmode="array", tickvals=log_minor, tickcolor=rule, showgrid=False)),
    xaxis5=dict(domain=xd(558.3, 759.5), range=[0, 72], side="top", anchor="y5", showline=False, showgrid=False, zeroline=False,
                tickvals=[0, 20, 40, 60], ticks="outside", ticklen=3, tickcolor="#333", tickangle=90, tickfont=dict(size=10.5, color="#222")),
    yaxis5=dict(domain=yd(61, 293), range=[13.6, 0.13], anchor="x5", showgrid=False, zeroline=False, showline=False, tickvals=list(range(1, 14)),
                ticktext=chrom_names, tickangle=90, ticklen=0, tickfont=dict(size=10.5, color="#222")),
    xaxis6=dict(domain=xd(565.3, 728.7), range=[0, 1], anchor="y6", showgrid=False, zeroline=False, tickvals=[0.1, 0.3, 0.5, 0.7, 0.9],
                ticktext=["0.1", "0.3", "0.5", "0.7", "0.9"], ticks="outside", ticklen=3, tickcolor="#777", tickangle=90, tickfont=dict(size=10, color="#222")),
    yaxis6=dict(hidden, domain=yd(322.7, 334), range=[-0.5, 0.5], anchor="x6"),
    xaxis7=dict(domain=xd(667.3, 730.7), range=[0, 12], anchor="y7", showgrid=False, zeroline=False, tickvals=[0, 6, 12], ticks="", ticklen=0, tickangle=90,
                tickfont=dict(size=10, color="#222")),
    yaxis7=dict(hidden, domain=yd(375, 384.3), range=[-0.5, 0.5], anchor="x7"),
    xaxis8=dict(hidden, domain=xd(295, 787), range=[0, 1476], anchor="y8"),
    yaxis8=dict(hidden, domain=yd(585, 765), range=[540, 0], anchor="x8"),
    xaxis9=dict(hidden, domain=xd(295, 787), range=[0, 1476], anchor="y9"),
    yaxis9=dict(hidden, domain=yd(760, 941), range=[543, 0], anchor="x9"),
)

fig.write_html("out.html", post_script="document.body.style.margin='0';", config={"displayModeBar": False})
